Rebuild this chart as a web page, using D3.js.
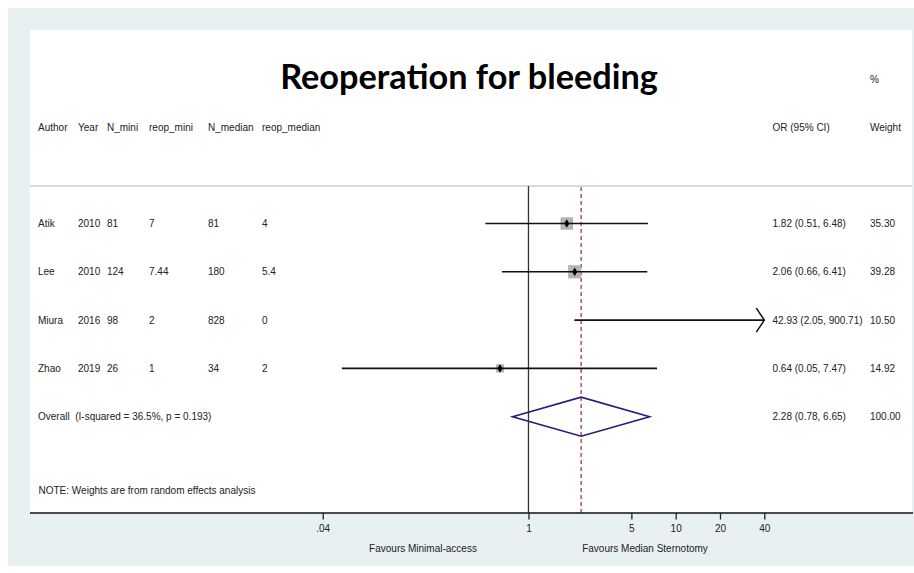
<!DOCTYPE html>
<html>
<head>
<meta charset="utf-8">
<script src="https://cdn.jsdelivr.net/npm/d3@7"></script>
<style>
  html, body { margin: 0; padding: 0; background: #ffffff; }
  svg { display: block; }
  text { font-family: "Liberation Sans", Arial, sans-serif; fill: #222; }
</style>
</head>
<body>
<svg id="chart" width="914" height="573"></svg>
<script>
// Study table
const authors = ["Atik", "Lee", "Miura", "Zhao"];
const years = ["2010", "2010", "2016", "2019"];
const nMini = ["81", "124", "98", "26"];
const reopMini = ["7", "7.44", "2", "1"];
const nMedian = ["81", "180", "828", "34"];
const reopMedian = ["4", "5.4", "0", "2"];
const columnHeaders = ["Author", "Year", "N_mini", "reop_mini", "N_median", "reop_median"];

// Odds ratios with 95% confidence limits, and random-effects weights (%)
const oddsRatio = [1.82, 2.06, 42.93, 0.64];
const ciLow = [0.51, 0.66, 2.05, 0.054];
const ciHigh = [6.48, 6.41, 900.71, 7.47];
const weights = [35.30, 39.28, 10.50, 14.92];

// Pooled estimate
const overallOR = 2.28, overallLow = 0.78, overallHigh = 6.65, overallWeight = 100.00;
const overallLabel = "Overall  (I-squared = 36.5%, p = 0.193)";

// Axis
const tickValues = [0.04, 1, 5, 10, 20, 40];
const tickLabels = [".04", "1", "5", "10", "20", "40"];
const axisMin = 0.04, axisMax = 40;

const svg = d3.select("#chart");
const FS = 10;

// Backgrounds
svg.append("rect").attr("x", 8).attr("y", 8).attr("width", 906).attr("height", 558).attr("fill", "#e9f0f2");
svg.append("rect").attr("x", 30).attr("y", 30).attr("width", 882).attr("height", 483).attr("fill", "#ffffff");

const x = d3.scaleLog().domain([axisMin, axisMax]).range([322.7, 764.3]);
const y = d3.scalePoint().domain(d3.range(authors.length + 1)).range([223.5, 416.7]);

// Title, sized to its column
const title = svg.append("text")
  .attr("x", 469).attr("y", 89)
  .attr("text-anchor", "middle")
  .style("font-family", "Lato, 'Open Sans', sans-serif")
  .style("font-weight", "700")
  .style("fill", "#000")
  .style("font-size", "100px")
  .text("Reoperation for bleeding");
const tw = title.node().getComputedTextLength();
title.style("font-size", (100 * 378 / tw) + "px");

// Column positions shared by headers and rows
const colX = [38, 78, 107, 149, 208, 262];
const cols = [authors, years, nMini, reopMini, nMedian, reopMedian];

const label = (t, lx, ly, anchor) => svg.append("text")
  .attr("x", lx).attr("y", ly).attr("dy", "0.35em")
  .attr("text-anchor", anchor || "start")
  .style("font-size", FS + "px").text(t);

// Column headers
columnHeaders.forEach((t, j) => label(t, colX[j], 127));
label("OR (95% CI)", 772.5, 127);
label("Weight", 870, 127);
label("%", 870, 79);

// Header separator
svg.append("line").attr("x1", 30).attr("x2", 912).attr("y1", 186).attr("y2", 186)
  .attr("stroke", "#cfcfcf").attr("stroke-width", 1.5);

// Reference lines
const axisY = 513;
svg.append("line").attr("x1", x(1)).attr("x2", x(1)).attr("y1", 186).attr("y2", axisY)
  .attr("stroke", "#333").attr("stroke-width", 1.3);
svg.append("line").attr("x1", x(overallOR)).attr("x2", x(overallOR)).attr("y1", 187).attr("y2", axisY)
  .attr("stroke", "#9b2b3a").attr("stroke-width", 1.2).attr("stroke-dasharray", "4,3");

// Study rows
authors.forEach((a, i) => {
  const yy = y(i);
  cols.forEach((arr, j) => label(arr[i], colX[j], yy));
  label(`${oddsRatio[i].toFixed(2)} (${ciLow[i].toFixed(2)}, ${ciHigh[i].toFixed(2)})`, 772.5, yy);
  label(weights[i].toFixed(2), 870, yy);

  const inRange = oddsRatio[i] <= axisMax && oddsRatio[i] >= axisMin;
  // weight box
  if (inRange) {
    const s = 2.1 * Math.sqrt(weights[i]);
    svg.append("rect").attr("x", x(oddsRatio[i]) - s / 2).attr("y", yy - s / 2)
      .attr("width", s).attr("height", s).attr("fill", "#b4b4b4");
  }
  // confidence interval, with an arrow where it runs off the axis
  const x1 = x(Math.max(ciLow[i], axisMin));
  const x2 = x(Math.min(ciHigh[i], axisMax));
  svg.append("line").attr("x1", x1).attr("x2", x2).attr("y1", yy).attr("y2", yy)
    .attr("stroke", "#111").attr("stroke-width", 1.6);
  if (ciHigh[i] > axisMax) {
    svg.append("path")
      .attr("d", `M${x2 - 8},${yy - 12} L${x2},${yy} L${x2 - 8},${yy + 12}`)
      .attr("fill", "none").attr("stroke", "#111").attr("stroke-width", 1.5);
  }
  if (inRange) {
    svg.append("path").attr("transform", `translate(${x(oddsRatio[i])},${yy})`)
      .attr("d", d3.symbol(d3.symbolDiamond, 22)()).attr("fill", "#000");
  }
});

// Overall row
const oy = y(authors.length);
label(overallLabel, 38, oy).attr("xml:space", "preserve").style("white-space", "pre");
label(`${overallOR.toFixed(2)} (${overallLow.toFixed(2)}, ${overallHigh.toFixed(2)})`, 772.5, oy);
label(overallWeight.toFixed(2), 870, oy);
const dh = 19.5;
svg.append("path")
  .attr("d", `M${x(overallLow)},${oy} L${x(overallOR)},${oy - dh} L${x(overallHigh)},${oy} L${x(overallOR)},${oy + dh} Z`)
  .attr("fill", "none").attr("stroke", "#1f1f7a").attr("stroke-width", 1.6);

// Note
label("NOTE: Weights are from random effects analysis", 38.5, 490);

// Axis
svg.append("line").attr("x1", 30).attr("x2", 913).attr("y1", axisY).attr("y2", axisY)
  .attr("stroke", "#111").attr("stroke-width", 1.3);
const axis = d3.axisBottom(x).tickValues(tickValues)
  .tickFormat((d, i) => tickLabels[i]).tickSize(6.5).tickPadding(5);
const ag = svg.append("g").attr("transform", `translate(0,${axisY})`).call(axis);
ag.select(".domain").remove();
ag.selectAll(".tick line").attr("stroke", "#222").attr("stroke-width", 1.3);
ag.selectAll(".tick text").style("font-size", FS + "px")
  .style("font-family", "'Liberation Sans', Arial, sans-serif").attr("fill", "#222");

label("Favours Minimal-access", 423, 548, "middle");
label("Favours Median Sternotomy", 645, 548, "middle");
</script>
</body>
</html>
